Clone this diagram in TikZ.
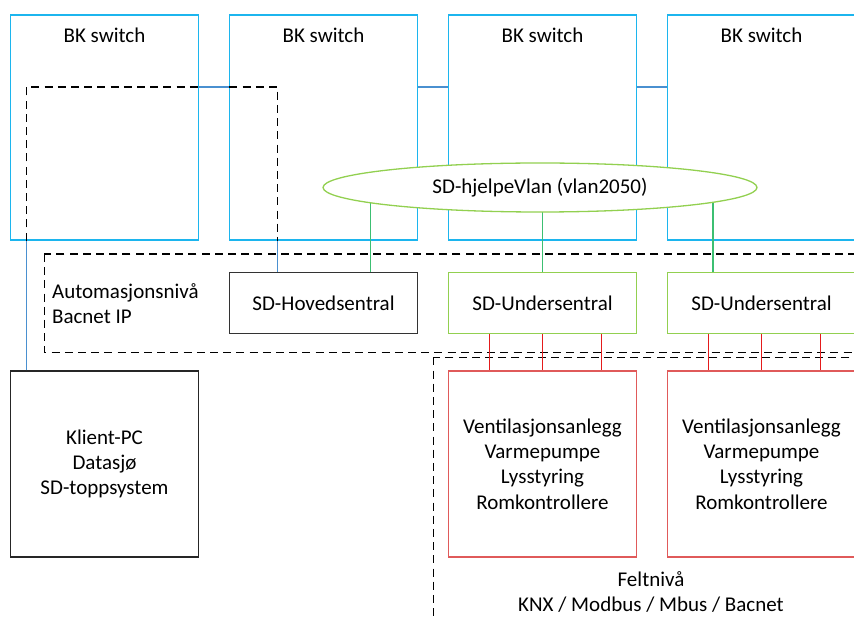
\documentclass[tikz,border=0pt]{standalone}
\usepackage{fontspec}
\setmainfont{Carlito}
\usepackage{tikz}
\usetikzlibrary{shapes.geometric}
\definecolor{switchblue}{HTML}{1CB5EE}
\definecolor{lanblue}{HTML}{4A90D0}
\definecolor{vlangreen}{HTML}{92D050}
\definecolor{vlandrop}{HTML}{3CBF72}
\definecolor{fieldred}{HTML}{E05A5A}
\definecolor{busred}{HTML}{E41B1B}
\tikzset{
	box/.style={draw,line width=0.65pt,minimum width=94pt,align=center,inner sep=0pt},
	switchbox/.style={box,draw=switchblue,minimum height=112.5pt,
		label={[anchor=north,inner sep=0pt,yshift=-6.6pt]north:BK switch}},
	hovedbox/.style={box,draw=black!80,minimum height=30.3pt},
	underbox/.style={box,draw=vlangreen,minimum height=30.3pt},
	pcbox/.style={box,draw=black!85,minimum height=93pt},
	fieldbox/.style={box,draw=fieldred,minimum height=93pt},
	vlan/.style={ellipse,draw=vlangreen,line width=0.65pt,fill=white,minimum width=217pt,minimum height=24.5pt,inner sep=0pt},
	zone/.style={draw=black,line width=0.55pt,dash pattern=on 4pt off 2.6pt},
	lanlink/.style={draw=lanblue,line width=0.6pt},
	vlanline/.style={draw=vlandrop,line width=0.6pt},
	busline/.style={draw=busred,line width=0.6pt}
}

\begin{document}
\begin{tikzpicture}[x=0.5pt,y=-0.5pt,font=\fontsize{10.5}{12.6}\selectfont]
	\useasboundingbox (0,0) rectangle (854,619);
	\clip (0,0) rectangle (854,619);
	\foreach \i/\x in {1/104.5,2/323.5,3/542.5,4/761.5}
		\node[switchbox] (sw\i) at (\x,127.5) {};
	\coordinate (lan) at (0,87);
	\coordinate (pcx) at (26.7,0);
	\coordinate (hovx) at (277.5,0);
	\coordinate (vlanc) at (540,187.5);
	\node[hovedbox] (hoved) at (323.5,303) {SD-Hovedsentral};
	\node[underbox] (under1) at (542.5,303) {SD-Undersentral};
	\node[underbox] (under2) at (761.5,303) {SD-Undersentral};
	\node[pcbox] (klient) at (104.5,464) {Klient-PC\\Datasjø\\SD-toppsystem};
	\node[fieldbox] (felt1) at (542.5,464) {Ventilasjonsanlegg\\Varmepumpe\\Lysstyring\\Romkontrollere};
	\node[fieldbox] (felt2) at (761.5,464) {Ventilasjonsanlegg\\Varmepumpe\\Lysstyring\\Romkontrollere};
	\draw[zone] (44.3,254) rectangle (880,352.3);
	\draw[zone] (433.3,357.3) rectangle (880,640);
	\node[anchor=west,align=left,inner sep=0pt] (autotext) at (51.7,304) {Automasjonsnivå\\Bacnet IP};
	\node[align=center,inner sep=0pt] (felttext) at (651,592) {Feltnivå\\KNX / Modbus / Mbus / Bacnet};
	\draw[zone] (sw1.south -| pcx) -- (pcx |- lan) -- (hovx |- lan) -- (hovx |- sw2.south);
	\draw[lanlink] (klient.north -| pcx) -- (sw1.south -| pcx);
	\draw[lanlink] (hoved.north -| hovx) -- (sw2.south -| hovx);
	\foreach \a/\b in {sw1/sw2,sw2/sw3,sw3/sw4}
		\draw[lanlink] (\a.east |- lan) -- (\b.west |- lan);
	\draw[vlanline] ([xshift=23.5pt]hoved.north) -- ([xshift=23.5pt]hoved.north |- vlanc);
	\draw[vlanline] (under1.north) -- (under1.north |- vlanc);
	\draw[vlanline] ([xshift=-24.25pt]under2.north) -- ([xshift=-24.25pt]under2.north |- vlanc);
	\node[vlan] (vlan) at (vlanc) {SD-hjelpeVlan (vlan2050)};
	\foreach \s in {-26.5pt,0pt,29.5pt}{
		\draw[busline] ([xshift=\s]under1.south) -- ([xshift=\s]felt1.north);
		\draw[busline] ([xshift=\s]under2.south) -- ([xshift=\s]felt2.north);
	}
\end{tikzpicture}
\end{document}
